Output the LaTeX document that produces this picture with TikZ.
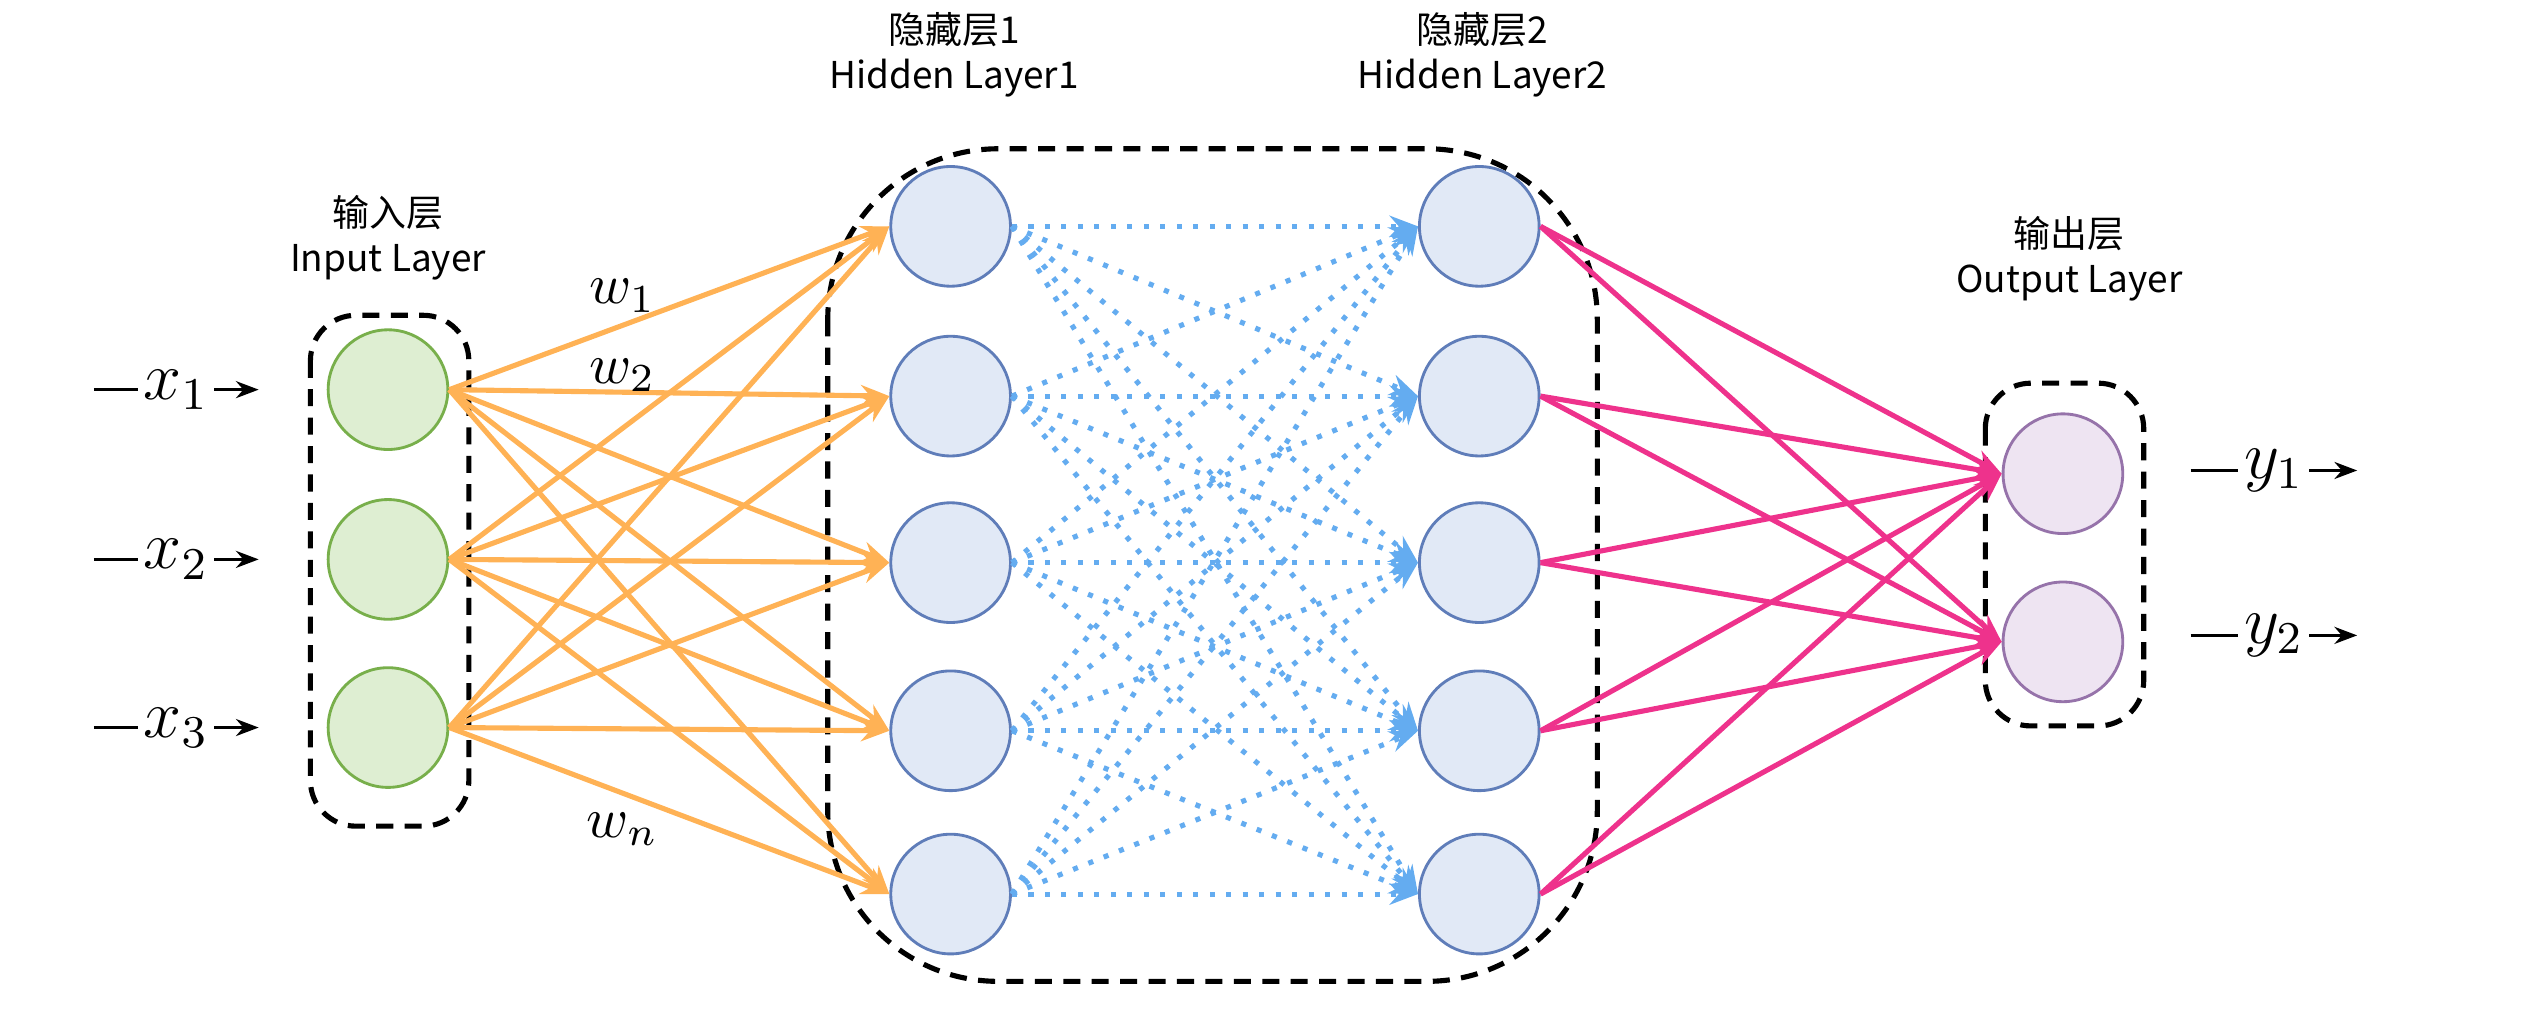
\documentclass[tikz,border=0pt]{standalone}
\usepackage{fontspec}
\newfontfamily\cjk{Noto Sans CJK SC}
\usetikzlibrary{arrows.meta}
\definecolor{inorange}{RGB}{255,178,85}
\definecolor{hidblue}{RGB}{100,172,240}
\definecolor{outpink}{RGB}{238,50,140}
\tikzset{
  neuron/.style = {circle, minimum size=0.74cm, inner sep=0pt, line width=0.5pt},
  inneuron/.style = {neuron, draw={rgb,255:red,120;green,175;blue,75}, fill={rgb,255:red,222;green,238;blue,210}},
  hidneuron/.style = {neuron, draw={rgb,255:red,95;green,125;blue,185}, fill={rgb,255:red,225;green,233;blue,246}},
  outneuron/.style = {neuron, draw={rgb,255:red,150;green,115;blue,170}, fill={rgb,255:red,238;green,228;blue,242}},
  layerbox/.style = {draw, densely dashed, line width=0.9pt, rounded corners=8pt},
  layerlabel/.style = {font=\cjk\fontsize{6.5}{8}\selectfont, align=center},
  inlink/.style = {draw=inorange, line width=0.9pt, -{Stealth[length=5pt]}},
  hidlink/.style = {draw=hidblue, line width=0.9pt, dotted, -{Stealth[length=5pt]}},
  outlink/.style = {draw=outpink, line width=0.9pt, -{Stealth[length=5pt]}},
  iolink/.style = {line width=0.5pt, -{Stealth[length=4pt]}}
}
\begin{document}
\begin{tikzpicture}[x=0.01cm, y=-0.01cm]
    \useasboundingbox (0,0) rectangle (1568,629);
    % layer boxes
    \draw[layerbox] (192,195) rectangle (290,511);
    \draw[layerbox, rounded corners=30pt] (512,92) rectangle (988,607);
    \draw[layerbox] (1228,237) rectangle (1326,449);
    % neurons
    \foreach \i/\y in {1/241, 2/346, 3/450}
        \node[inneuron] (in\i) at (240,\y) {};
    \foreach \i/\y in {1/140, 2/245, 3/348, 4/452, 5/553} {
        \node[hidneuron] (ha\i) at (588,\y) {};
        \node[hidneuron] (hb\i) at (915,\y) {};
    }
    \foreach \i/\y in {1/293, 2/397}
        \node[outneuron] (out\i) at (1276,\y) {};
    % connections
    \foreach \i in {1,2,3}
        \foreach \j in {1,...,5}
            \draw[inlink] (in\i.east) -- (ha\j.west);
    \foreach \i in {1,...,5}
        \foreach \j in {1,...,5}
            \draw[hidlink] (ha\i.east) -- (hb\j.west);
    \foreach \i in {1,...,5}
        \foreach \j in {1,2}
            \draw[outlink] (hb\i.east) -- (out\j.west);
    % inputs and outputs
    \foreach \i/\y in {1/241, 2/346, 3/450} {
        \coordinate (xs\i) at (58,\y);
        \coordinate (xe\i) at (160,\y);
        \draw[iolink] (xs\i) -- node[fill=white, inner sep=1pt, font=\large] {$x_{\i}$} (xe\i);
    }
    \foreach \i/\y in {1/291, 2/393} {
        \coordinate (ys\i) at (1355,\y);
        \coordinate (ye\i) at (1458,\y);
        \draw[iolink] (ys\i) -- node[fill=white, inner sep=1pt, font=\large] {$y_{\i}$} (ye\i);
    }
    % weights
    \node (w1) at (385,183) {$w_1$};
    \node (w2) at (385,232) {$w_2$};
    \node (wn) at (385,513) {$w_n$};
    % layer titles
    \node[layerlabel] (inlabel)  at (240,147) {输入层\\Input Layer};
    \node[layerlabel] (h1label)  at (590,34)  {隐藏层1\\Hidden Layer1};
    \node[layerlabel] (h2label)  at (917,34)  {隐藏层2\\Hidden Layer2};
    \node[layerlabel] (outlabel) at (1280,160) {输出层\\Output Layer};
\end{tikzpicture}
\end{document}
